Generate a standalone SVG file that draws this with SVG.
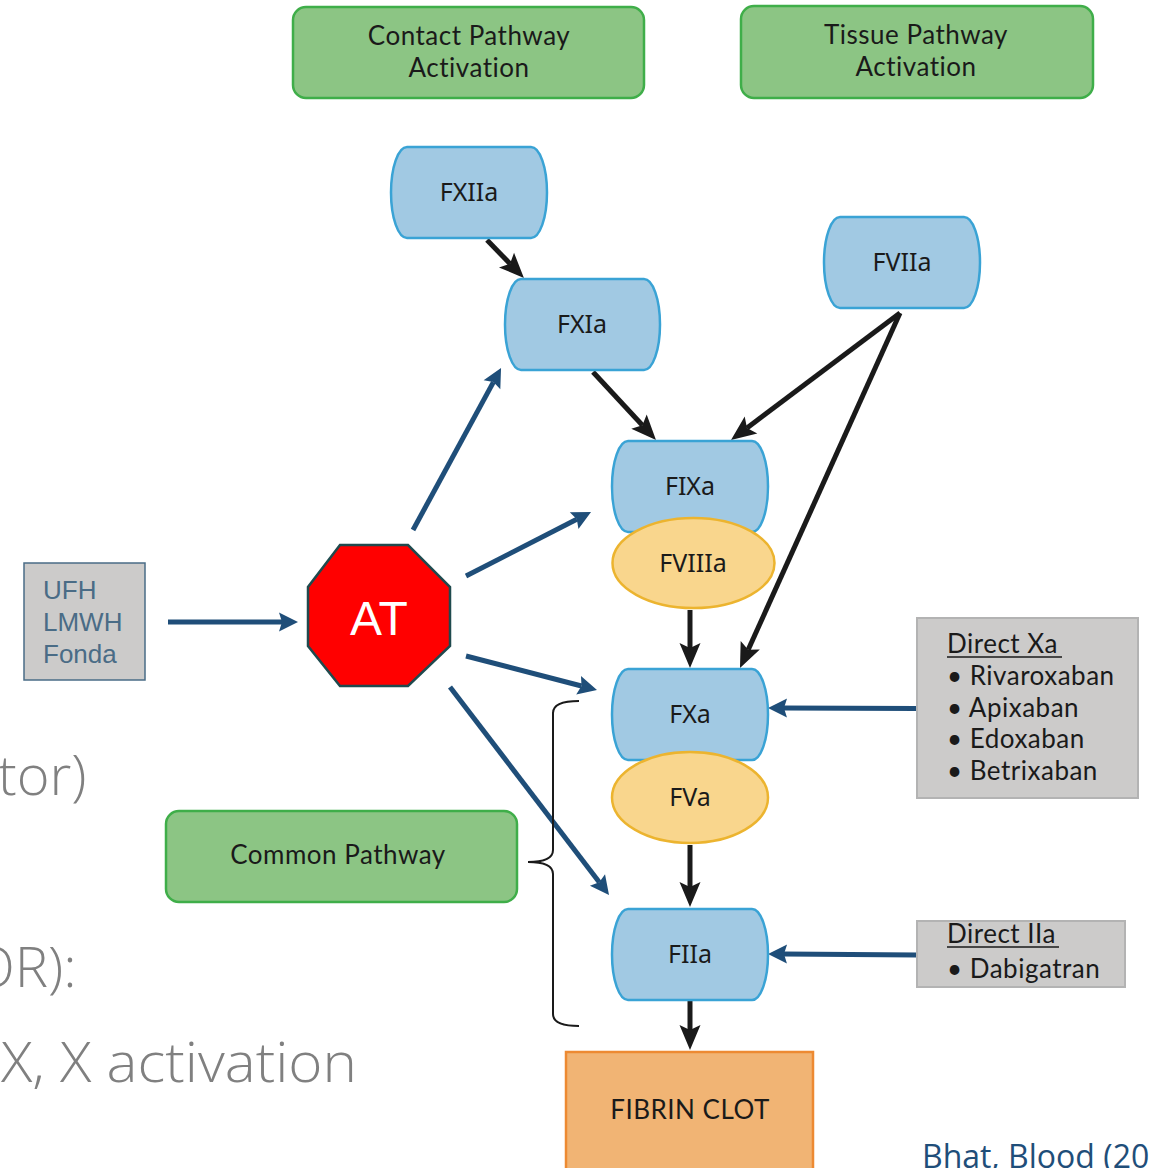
<svg xmlns="http://www.w3.org/2000/svg" width="1150" height="1168" viewBox="0 0 1150 1168">
<defs>
<style>
.green{fill:#8cc584;stroke:#3fae49;stroke-width:2.5}
.blue{fill:#a1c9e3;stroke:#3aa3d5;stroke-width:2.5}
.yellow{fill:#f9d68d;stroke:#ecb42f;stroke-width:2.5}
.gray{fill:#cccbca;stroke:#b3b3b3;stroke-width:2}
.gtxt{font-family:Lato,"Noto Sans",sans-serif;font-size:26px;letter-spacing:0.5px;fill:#1a1a1a;text-anchor:middle}
.ntxt{font-family:"Noto Sans","Open Sans",sans-serif;font-size:25px;fill:#1a1a1a;text-anchor:middle}
.dtxt{font-family:Lato,"Noto Sans",sans-serif;font-size:26px;letter-spacing:0.5px;fill:#1a1a1a}
.ufh{font-family:"Liberation Sans",Arial,sans-serif;font-size:26px;fill:#4a6c86}
.bg{font-family:"Open Sans","Noto Sans",sans-serif;font-weight:300;font-size:56px;fill:#808080}
.blk{stroke:#1a1a1a;stroke-width:5;fill:none}
.nav{stroke:#1f4e79;stroke-width:5;fill:none}
</style>
<marker id="ab" markerUnits="userSpaceOnUse" viewBox="-6 -12 28 24" markerWidth="28" markerHeight="24" refX="0" refY="0" orient="auto">
<path d="M20,0 L-5,-10.5 L0,0 L-5,10.5 Z" fill="#1a1a1a"/>
</marker>
<marker id="an" markerUnits="userSpaceOnUse" viewBox="-4 -11 22 22" markerWidth="22" markerHeight="22" refX="0" refY="0" orient="auto">
<path d="M16,0 L-3,-9.5 L0,0 L-3,9.5 Z" fill="#1f4e79"/>
</marker>
</defs>

<g id="background-text">
<text class="bg" x="-2" y="795">tor)</text>
<text class="bg" x="-28" y="987">OR):</text>
<text class="bg" x="1" y="1082" textLength="356" lengthAdjust="spacingAndGlyphs">X, X activation</text>
<text x="922" y="1168" font-family="'Open Sans','Noto Sans',sans-serif" font-size="32" fill="#1f4e79">Bhat, Blood (20</text>
</g>

<g id="connectors">
<line class="blk" x1="487" y1="240" x2="510" y2="263.7" marker-end="url(#ab)"/>
<line class="blk" x1="593" y1="372" x2="642.4" y2="425.3" marker-end="url(#ab)"/>
<line class="blk" x1="900" y1="313" x2="747" y2="428" marker-end="url(#ab)"/>
<line class="blk" x1="900" y1="313" x2="748.2" y2="649.8" marker-end="url(#ab)"/>
<line class="blk" x1="690" y1="610" x2="690" y2="648" marker-end="url(#ab)"/>
<line class="blk" x1="690" y1="845" x2="690" y2="887" marker-end="url(#ab)"/>
<line class="blk" x1="690" y1="1001" x2="690" y2="1030" marker-end="url(#ab)"/>
<line class="nav" x1="168" y1="622" x2="282" y2="622" marker-end="url(#an)"/>
<line class="nav" x1="413" y1="530" x2="493.4" y2="382.1" marker-end="url(#an)"/>
<line class="nav" x1="466" y1="576" x2="576.8" y2="519.3" marker-end="url(#an)"/>
<line class="nav" x1="466" y1="656" x2="581.5" y2="686" marker-end="url(#an)"/>
<line class="nav" x1="450" y1="687" x2="599.3" y2="882.3" marker-end="url(#an)"/>
<line class="nav" x1="916" y1="708.5" x2="784" y2="708" marker-end="url(#an)"/>
<line class="nav" x1="917" y1="955" x2="784" y2="954" marker-end="url(#an)"/>
<path d="M579,701 Q553,701 553,713 V850 Q553,862 528,862 Q553,862 553,874 V1014 Q553,1026 579,1026" fill="none" stroke="#1a1a1a" stroke-width="2"/>
</g>

<g id="contact-pathway">
<rect class="green" x="293" y="7" width="351" height="91" rx="13"/>
<text class="gtxt" x="469" y="45">Contact Pathway</text>
<text class="gtxt" x="469" y="77">Activation</text>
</g>
<g id="tissue-pathway">
<rect class="green" x="741" y="6" width="352" height="92" rx="13"/>
<text class="gtxt" x="916" y="44">Tissue Pathway</text>
<text class="gtxt" x="916" y="76">Activation</text>
</g>
<g id="common-pathway">
<rect class="green" x="166" y="811" width="351" height="91" rx="13"/>
<text class="gtxt" x="338" y="864">Common Pathway</text>
</g>

<g id="fxiia">
<path class="blue" d="M407,147 H531 A16,45.5 0 0 1 531,238 H407 A16,45.5 0 0 1 407,147 Z"/>
<text class="ntxt" x="469" y="201">FXIIa</text>
</g>
<g id="fxia">
<path class="blue" d="M521,279 H644 A16,45.5 0 0 1 644,370 H521 A16,45.5 0 0 1 521,279 Z"/>
<text class="ntxt" x="582" y="333">FXIa</text>
</g>
<g id="fviia">
<path class="blue" d="M840,217 H964 A16,45.5 0 0 1 964,308 H840 A16,45.5 0 0 1 840,217 Z"/>
<text class="ntxt" x="902" y="271">FVIIa</text>
</g>
<g id="fixa">
<path class="blue" d="M628,441 H752 A16,45.5 0 0 1 752,532 H628 A16,45.5 0 0 1 628,441 Z"/>
<text class="ntxt" x="690" y="495">FIXa</text>
</g>
<g id="fviiia">
<ellipse class="yellow" cx="693.5" cy="563" rx="81" ry="45"/>
<text class="ntxt" x="693" y="572">FVIIIa</text>
</g>
<g id="fxa">
<path class="blue" d="M628,669 H752 A16,45.5 0 0 1 752,760 H628 A16,45.5 0 0 1 628,669 Z"/>
<text class="ntxt" x="690" y="723">FXa</text>
</g>
<g id="fva">
<ellipse class="yellow" cx="690" cy="797.5" rx="78" ry="45.5"/>
<text class="ntxt" x="690" y="806">FVa</text>
</g>
<g id="fiia">
<path class="blue" d="M628,909 H752 A16,45.5 0 0 1 752,1000 H628 A16,45.5 0 0 1 628,909 Z"/>
<text class="ntxt" x="690" y="963">FIIa</text>
</g>

<g id="fibrin-clot">
<rect x="566" y="1052" width="247" height="130" fill="#f1b474" stroke="#ed8a32" stroke-width="2.5"/>
<text class="gtxt" x="690" y="1119" font-size="26">FIBRIN CLOT</text>
</g>

<g id="at">
<polygon points="340,545 408,545 450,587 450,646 408,686 340,686 308,646 308,587" fill="#ff0000" stroke="#1f4a4e" stroke-width="2.5"/>
<text x="379" y="635" font-family="'Liberation Sans',Arial,sans-serif" font-size="48" fill="#ffffff" text-anchor="middle">AT</text>
</g>

<g id="heparins">
<rect x="24" y="563" width="121" height="117" fill="#cccbca" stroke="#4a6c86" stroke-width="1.5"/>
<text class="ufh" x="43" y="599">UFH</text>
<text class="ufh" x="43" y="631">LMWH</text>
<text class="ufh" x="43" y="663">Fonda</text>
</g>

<g id="direct-xa">
<rect class="gray" x="917" y="618" width="221" height="180"/>
<text class="dtxt" x="947" y="653">Direct Xa </text>
<line x1="947" y1="657" x2="1062" y2="657" stroke="#1a1a1a" stroke-width="1.5"/>
<text class="dtxt" x="947" y="685">• Rivaroxaban</text>
<text class="dtxt" x="947" y="717">• Apixaban</text>
<text class="dtxt" x="947" y="748">• Edoxaban</text>
<text class="dtxt" x="947" y="780">• Betrixaban</text>
</g>

<g id="direct-iia">
<rect class="gray" x="917" y="921" width="208" height="66"/>
<text class="dtxt" x="947" y="943">Direct IIa </text>
<line x1="947" y1="947" x2="1059" y2="947" stroke="#1a1a1a" stroke-width="1.5"/>
<text class="dtxt" x="947" y="978">• Dabigatran</text>
</g>
</svg>
